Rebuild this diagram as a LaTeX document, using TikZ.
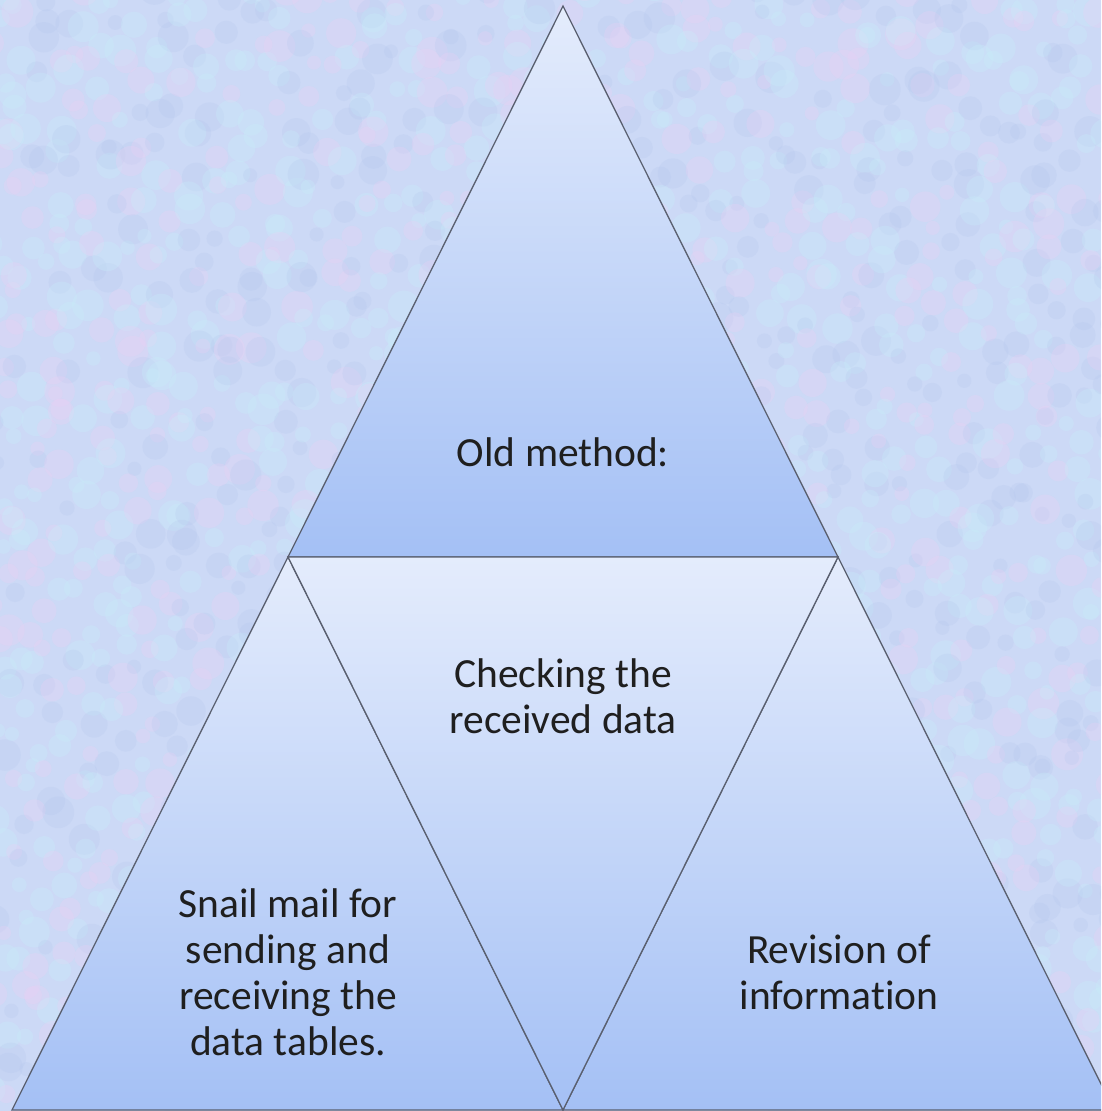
\documentclass[tikz,border=0pt]{standalone}
\usepackage{fontspec}
\setmainfont[Ligatures=NoCommon]{Carlito}
\begin{document}
\begin{tikzpicture}[x=1pt,y=-1pt,
  tri/.style={draw=edgec,line width=1.3pt,line join=miter,shading=axis,top color=toplt,bottom color=botdk},
  lbl/.style={align=center,font=\fontsize{41.5}{46}\selectfont,text=black!88,inner sep=0pt}]
\definecolor{bgc}{RGB}{204,217,246}
\definecolor{edgec}{RGB}{90,96,112}
\definecolor{toplt}{RGB}{228,236,252}
\definecolor{botdk}{RGB}{164,192,245}
\definecolor{pinkc}{RGB}{234,208,244}
\definecolor{cyanc}{RGB}{200,238,250}
\definecolor{bluec}{RGB}{182,200,238}
\useasboundingbox (0,0) rectangle (1101,1111);
\clip (0,0) rectangle (1101,1111);
\fill[bgc] (0,0) rectangle (1101,1111);
\pgfmathsetseed{11}
\foreach \gx in {0,24,...,1104}{
  \foreach \gy in {0,24,...,1112}{
    \pgfmathsetmacro{\xx}{\gx+rand*14}
    \pgfmathsetmacro{\yy}{\gy+rand*14}
    \pgfmathsetmacro{\rr}{7+rnd*9}
    \pgfmathsetmacro{\cc}{rnd}
    \ifdim\cc pt<0.33pt
      \fill[pinkc,opacity=0.3] (\xx,\yy) circle[radius=\rr];
    \else\ifdim\cc pt<0.7pt
      \fill[cyanc,opacity=0.3] (\xx,\yy) circle[radius=\rr];
    \else
      \fill[bluec,opacity=0.25] (\xx,\yy) circle[radius=\rr];
    \fi\fi
  }
}
\coordinate (A) at (563,6);
\coordinate (L) at (288,557);
\coordinate (R) at (838,557);
\coordinate (BL) at (12,1110);
\coordinate (BM) at (563,1110);
\coordinate (BR) at (1114,1110);
\path[tri] (A) -- (R) -- (L) -- cycle;
\path[tri] (L) -- (BM) -- (BL) -- cycle;
\path[tri] (R) -- (BR) -- (BM) -- cycle;
\path[tri] (L) -- (R) -- (BM) -- cycle;
\node[lbl] (t1) at (563,452) {Old method:};
\node[lbl] (t2) at (563,696) {Checking the\\received data};
\node[lbl] (t3) at (288,972) {Snail mail for\\sending and\\receiving the\\data tables.};
\node[lbl] (t4) at (839,972) {Revision of\\information};
\end{tikzpicture}
\end{document}
